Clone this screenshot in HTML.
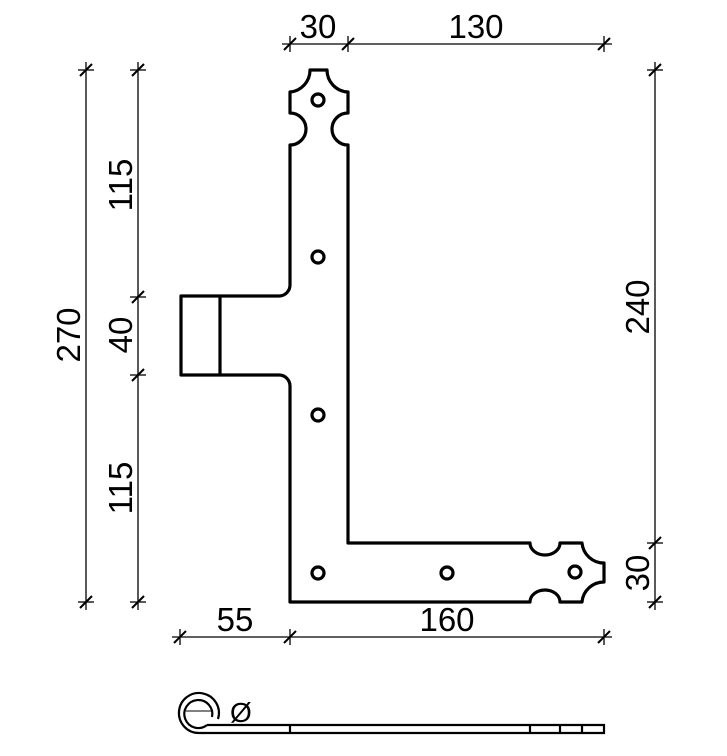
<!DOCTYPE html><html><head><style>html,body{margin:0;background:#fff}svg{display:block}text{font-family:"Liberation Sans",sans-serif;font-size:33px;fill:#000}</style></head><body>
<svg width="727" height="756" viewBox="0 0 727 756">
<g fill="none" stroke="#000" stroke-width="3.2" stroke-linejoin="round">
<path d="M310,70 L327,70 A22,22 0 0 0 348,92 L348,113 A16,16 0 0 0 348,145 L348,543 L530,543 A15,12 0 0 0 560,543 L582,543 A22,22 0 0 0 604,563 L604,582 A22,22 0 0 0 582,602 L560,602 A15,12 0 0 0 530,602 L290,602 L290,386 A11,11 0 0 0 279,375 L181,375 L181,296 L279,296 A11,11 0 0 0 290,285 L290,145 A16,16 0 0 0 290,113 L290,92 A22,22 0 0 0 310,70 Z"/>
<line x1="220" y1="296" x2="220" y2="375"/>
<circle cx="318" cy="100" r="6"/><circle cx="318" cy="257" r="6"/><circle cx="318" cy="415" r="6"/>
<circle cx="318" cy="573" r="6"/><circle cx="447" cy="573" r="6"/><circle cx="575" cy="572" r="6"/>
</g>
<g fill="none" stroke="#000" stroke-width="1.3">
<line x1="282" y1="44" x2="612" y2="44"/>
<line x1="290" y1="36" x2="290" y2="52"/><line x1="348" y1="36" x2="348" y2="52"/><line x1="604" y1="36" x2="604" y2="52"/>
<line x1="86" y1="62" x2="86" y2="610"/>
<line x1="78" y1="70" x2="94" y2="70"/><line x1="78" y1="602" x2="94" y2="602"/>
<line x1="138" y1="62" x2="138" y2="610"/>
<line x1="130" y1="70" x2="146" y2="70"/><line x1="130" y1="297" x2="146" y2="297"/><line x1="130" y1="375" x2="146" y2="375"/><line x1="130" y1="602" x2="146" y2="602"/>
<line x1="655" y1="62" x2="655" y2="610"/>
<line x1="647" y1="70" x2="663" y2="70"/><line x1="647" y1="543" x2="663" y2="543"/><line x1="647" y1="602" x2="663" y2="602"/>
<line x1="172" y1="637" x2="612" y2="637"/>
<line x1="180" y1="629" x2="180" y2="645"/><line x1="290" y1="629" x2="290" y2="645"/><line x1="604" y1="629" x2="604" y2="645"/>
</g>
<g stroke="#000" stroke-width="2">
<line x1="284" y1="50" x2="296" y2="38"/><line x1="342" y1="50" x2="354" y2="38"/><line x1="598" y1="50" x2="610" y2="38"/>
<line x1="80" y1="76" x2="92" y2="64"/><line x1="80" y1="608" x2="92" y2="596"/>
<line x1="132" y1="76" x2="144" y2="64"/><line x1="132" y1="303" x2="144" y2="291"/><line x1="132" y1="381" x2="144" y2="369"/><line x1="132" y1="608" x2="144" y2="596"/>
<line x1="649" y1="76" x2="661" y2="64"/><line x1="649" y1="549" x2="661" y2="537"/><line x1="649" y1="608" x2="661" y2="596"/>
<line x1="174" y1="643" x2="186" y2="631"/><line x1="284" y1="643" x2="296" y2="631"/><line x1="598" y1="643" x2="610" y2="631"/>
</g>
<text x="318" y="38" text-anchor="middle">30</text>
<text x="476" y="38" text-anchor="middle">130</text>
<text x="235" y="631" text-anchor="middle">55</text>
<text x="447" y="631" text-anchor="middle">160</text>
<text transform="translate(80,335) rotate(-90)" text-anchor="middle">270</text>
<text transform="translate(132,185) rotate(-90)" text-anchor="middle">115</text>
<text transform="translate(132,335) rotate(-90)" text-anchor="middle">40</text>
<text transform="translate(132,488) rotate(-90)" text-anchor="middle">115</text>
<text transform="translate(649,307) rotate(-90)" text-anchor="middle">240</text>
<text transform="translate(649,573) rotate(-90)" text-anchor="middle">30</text>
<g fill="none" stroke="#000" stroke-width="2.2">
<path d="M199,733 L604,733 L604,725 L207,725"/>
<path d="M199,733 A20,20 0 1 1 218,719"/>
<path d="M207,725 A14,14 0 1 1 212,717"/>
<line x1="290" y1="725" x2="290" y2="733"/><line x1="530" y1="725" x2="530" y2="733"/><line x1="560" y1="725" x2="560" y2="733"/><line x1="582" y1="725" x2="582" y2="733"/>
</g>
<line x1="186" y1="711" x2="212" y2="711" stroke="#000" stroke-width="1"/>
<text x="230" y="722" style="font-size:28px">Ø</text>
</svg></body></html>
